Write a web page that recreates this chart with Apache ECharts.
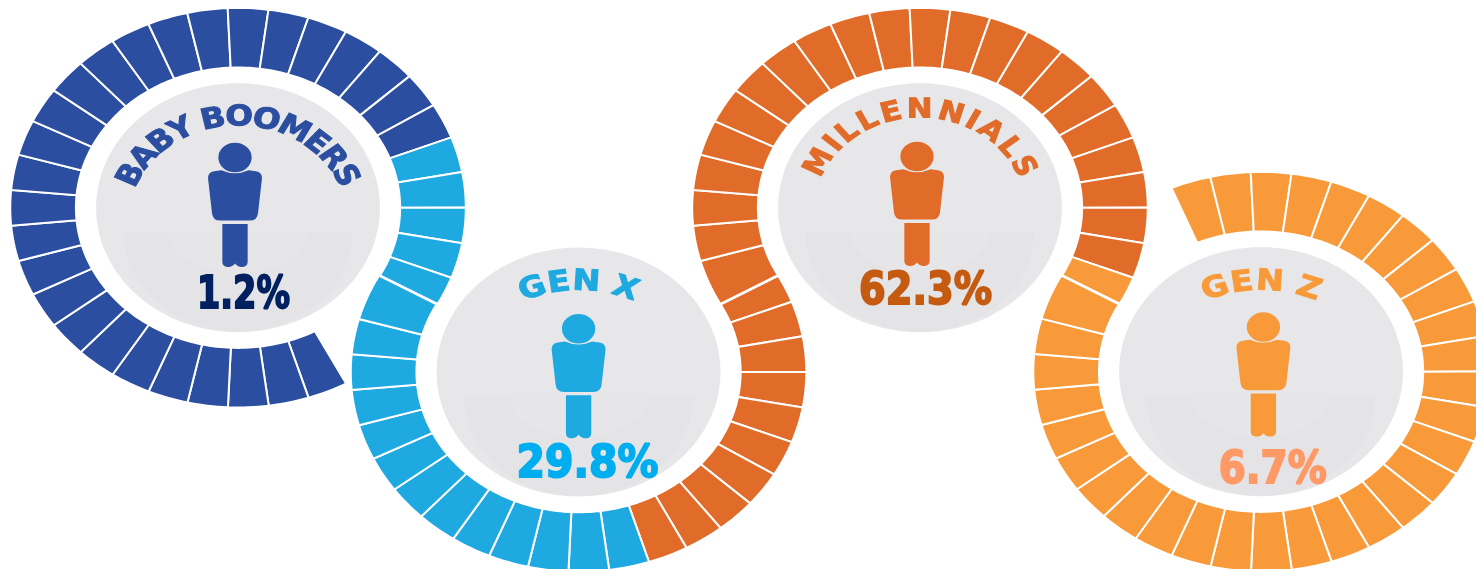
<!DOCTYPE html>
<html>
<head>
<meta charset="utf-8">
<title>Generations</title>
<script src="https://cdn.jsdelivr.net/npm/echarts@6/dist/echarts.min.js"></script>
<style>
  html, body { margin: 0; padding: 0; background: #fff; }
  #chart { width: 1476px; height: 569px; }
</style>
</head>
<body>
<div id="chart"></div>
<script>
// values
const generations = ['BABY BOOMERS', 'GEN X', 'MILLENNIALS', 'GEN Z'];
const shares = [1.2, 29.8, 62.3, 6.7];
// blocks on each ring, clockwise, as [generation, how many]
const ring1Blocks = [[0, 27], [1, 5]];
const ring2Blocks = [[2, 10], [1, 13]];
const ring3Blocks = [[2, 22], [3, 1]];
const ring4Blocks = [[3, 31]];

// layout: the picture is stretched sideways, the x axis does that for us
const stretch = 1.14;
const slots = 35;
const firstSlotAngle = -2.6;
const ringCentres = [[208.8, 207.7], [507.5, 372], [807, 207.7], [1106.2, 371.7]];
const ringFirstSlot = [15, 6, 24, 33];
const outerR = 199.8;
const innerRx = 142.2;
const innerRy = 140.2;
const discR = 124.5;

const blockColors = ['#2B4EA0', '#1EA9E1', '#E16B28', '#F89A39'];
const shareColors = ['#002060', '#00AEEF', '#C55A11', '#FF9966'];
const font = '"DejaVu Sans", sans-serif';

// person icon, head then body then legs
const personPath = 'M31 44a50 44 0 1 0 100 0a50 44 0 1 0-100 0Z' +
  'M0 105Q0 88 18 85L40 82Q81 100 122 82L144 85Q162 88 162 105L150 210Q148 232 125 232L37 232Q14 232 12 210Z' +
  'M43 242L119 242L119 355Q119 368 105 370Q90 372 81 360Q72 372 57 370Q43 368 43 355Z';
// per ring: icon x offset/top in px, title arc [centre dy, radius, half span deg, size], share [x, y, width]
const iconSpots = [[235, 142.7], [578.6, 314], [917, 141.7], [1263.4, 312.3]];
const titleArcs = [[14, 93.5, 69.5, 28.5], [34, 113, 25, 29], [2.5, 90, 71, 27], [34, 113, 25, 29]];
const shareSpots = [[243.5, 296.5, 93], [587.5, 465, 142], [925.6, 292, 133], [1272.7, 471.5, 108]];

const measure = document.createElement('canvas').getContext('2d');
function widthOf(text, cssFont) {
  measure.font = cssFont;
  return measure.measureText(text).width;
}

function point(c, rx, ry, deg) {
  const a = deg * Math.PI / 180;
  return [c[0] + rx * Math.sin(a), c[1] - ry * Math.cos(a)];
}

// angle clockwise from 12 o'clock where ring a touches ring b
function seamAngle(a, b) {
  const dx = ringCentres[b][0] - ringCentres[a][0];
  const dy = ringCentres[b][1] - ringCentres[a][1];
  return Math.atan2(dx, -dy) * 180 / Math.PI;
}

function slotAngle(ring, k) {
  const n = k % slots;
  const base = firstSlotAngle + 360 / slots * k;
  const turn = Math.floor(k / slots) * 360;
  if (ring === 0 && n === 12) return seamAngle(0, 1) + turn;
  if (ring === 1 && n === 29) return seamAngle(0, 1) + 180 + turn;
  if (ring === 1 && n === 6) return seamAngle(1, 2) + turn;
  if (ring === 2 && n === 24) return seamAngle(1, 2) + 180 + turn;
  if (ring === 2 && n === 12) return seamAngle(2, 3) + turn;
  if (ring === 3 && n === 29) return seamAngle(2, 3) + 180 + turn;
  return base;
}

const blockRows = [];
[ring1Blocks, ring2Blocks, ring3Blocks, ring4Blocks].forEach((runs, ring) => {
  let k = ringFirstSlot[ring];
  runs.forEach(run => {
    for (let i = 0; i < run[1]; i++) {
      blockRows.push([ring, k, run[0]]);
      k++;
    }
  });
});

function renderBlock(params, api) {
  const ring = api.value(0);
  const k = api.value(1);
  const c = ringCentres[ring];
  const a0 = slotAngle(ring, k);
  const a1 = slotAngle(ring, k + 1);
  const pts = [];
  for (let i = 0; i <= 8; i++) pts.push(api.coord(point(c, outerR, outerR, a0 + (a1 - a0) * i / 8)));
  for (let i = 8; i >= 0; i--) pts.push(api.coord(point(c, innerRx, innerRy, a0 + (a1 - a0) * i / 8)));
  return {
    type: 'polygon',
    shape: { points: pts },
    style: { fill: blockColors[api.value(2)], stroke: '#fff', lineWidth: 2 }
  };
}

function ellipsePts(api, c, rx, ry, a0, a1) {
  const pts = [];
  for (let a = a0; a <= a1; a += 3) {
    pts.push(api.coord(point(c, rx, ry, a)));
  }
  return pts;
}

function curvedTitle(api, i) {
  const arc = titleArcs[i];
  const cssFont = 'bold ' + arc[3] + 'px ' + font;
  const chars = generations[i].split('');
  const widths = chars.map(ch => ch === ' ' ? arc[3] * 0.3 : widthOf(ch, cssFont));
  const total = widths.reduce((s, w) => s + w, 0);
  const span = arc[2] * 2;
  const c = api.coord([ringCentres[i][0], ringCentres[i][1] + arc[0]]);
  const letters = [];
  let used = 0;
  chars.forEach((ch, n) => {
    const deg = -arc[2] + (used + widths[n] / 2) / total * span;
    used += widths[n];
    if (ch === ' ') return;
    const rad = deg * Math.PI / 180;
    const r = arc[1] + arc[3] * 0.36;
    letters.push({
      type: 'text',
      x: r * Math.sin(rad),
      y: -r * Math.cos(rad),
      rotation: -rad,
      style: {
        text: ch, fill: blockColors[i], stroke: blockColors[i], lineWidth: 1,
        font: cssFont, textAlign: 'center', textVerticalAlign: 'middle'
      }
    });
  });
  return { type: 'group', x: c[0], y: c[1], scaleX: stretch, children: letters };
}

function renderBadge(params, api) {
  const i = api.value(2);
  const c = [api.value(0), api.value(1)];
  const low = [c[0], c[1] + 25];
  const spot = shareSpots[i];
  const icon = iconSpots[i];
  const label = shares[i].toFixed(1) + '%';
  const shareFont = 'bold 45px ' + font;
  return {
    type: 'group',
    children: [
      { type: 'polygon', shape: { points: ellipsePts(api, c, discR, discR, 0, 360) }, style: { fill: '#E7E7E9' } },
      { type: 'polygon', shape: { points: ellipsePts(api, low, 100, 99, 90, 270) }, style: { fill: '#E4E4E6' } },
      { type: 'polygon', shape: { points: ellipsePts(api, low, 61, 40, 90, 270) }, style: { fill: '#E6E6E8' } },
      {
        type: 'path',
        shape: { pathData: personPath, x: icon[0] - 27, y: icon[1], width: 54, height: 124.3, layout: 'cover' },
        style: { fill: blockColors[i] }
      },
      curvedTitle(api, i),
      {
        type: 'group',
        x: spot[0],
        y: spot[1],
        scaleX: spot[2] / widthOf(label, shareFont),
        children: [{
          type: 'text',
          style: {
            text: label, fill: shareColors[i], stroke: shareColors[i], lineWidth: 2,
            font: shareFont, textAlign: 'center', textVerticalAlign: 'middle'
          }
        }]
      }
    ]
  };
}

const chart = echarts.init(document.getElementById('chart'));
chart.setOption({
  animation: false,
  backgroundColor: '#fff',
  grid: { left: 0, right: 0, top: 0, bottom: 0 },
  xAxis: { type: 'value', min: 0, max: 1476 / stretch, show: false },
  yAxis: { type: 'value', min: 0, max: 569, inverse: true, show: false },
  series: [
    {
      type: 'custom',
      name: 'blocks',
      clip: true,
      silent: true,
      encode: { x: 0, y: 1 },
      data: blockRows,
      renderItem: renderBlock
    },
    {
      type: 'custom',
      name: 'badges',
      silent: true,
      encode: { x: 0, y: 1 },
      data: generations.map((g, i) => [ringCentres[i][0], ringCentres[i][1], i]),
      renderItem: renderBadge
    }
  ]
});
</script>
</body>
</html>
